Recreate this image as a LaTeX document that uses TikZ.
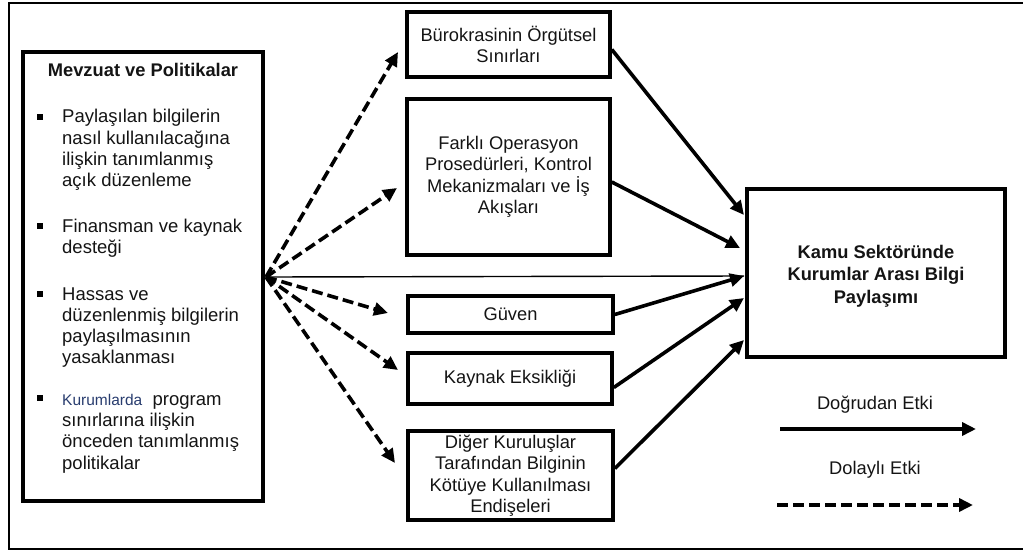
\documentclass[tikz,border=0pt]{standalone}
\usepackage{fontspec}
\setmainfont{Liberation Sans}
\usetikzlibrary{arrows.meta,calc}
\definecolor{txt}{RGB}{20,20,20}
\definecolor{kur}{RGB}{40,60,110}
\begin{document}
\begin{tikzpicture}[x=1pt,y=-1pt,
  every node/.style={text=txt},
  box/.style={draw,line width=3.6pt,inner sep=0pt,align=center,
    font=\fontsize{18.3}{21.5}\selectfont},
  bullettext/.style={anchor=west,align=left,inner sep=0pt,
    font=\fontsize{18.5}{21.2}\selectfont},
  sq/.style={fill=black,minimum size=5.5pt,inner sep=0pt},
  direct/.style={line width=3.6pt,-{Triangle[length=14pt,width=13pt]}},
  indirect/.style={line width=3.6pt,dash pattern=on 11pt off 5pt,
    -{Triangle[length=14pt,width=13pt]}},
  thin/.style={line width=1.4pt}]
\useasboundingbox (0,0) rectangle (1023,552);
% outer frame
\draw[line width=1.8pt] (1023,3) -- (9,3) -- (9,549) -- (1023,549);

% left box
\node[box,minimum width=240pt,minimum height=449pt] (mev) at (143,276.5) {};
\node[font=\bfseries\fontsize{18.3}{21}\selectfont] (title) at (143,70) {Mevzuat ve Politikalar};
\node[sq] (b1) at (40,117) {};
\node[bullettext] (t1) at (62,150) {Paylaşılan bilgilerin\\nasıl kullanılacağına\\ilişkin tanımlanmış\\açık düzenleme};
\node[sq] (b2) at (40,226) {};
\node[bullettext] (t2) at (62,238) {Finansman ve kaynak\\desteği};
\node[sq] (b3) at (40,294) {};
\node[bullettext] (t3) at (62,327.5) {Hassas ve\\düzenlenmiş bilgilerin\\paylaşılmasının\\yasaklanması};
\node[sq] (b4) at (40,398) {};
\node[bullettext] (t4) at (62,433.5) {{\color{kur}\fontsize{15.5}{21.2}\selectfont Kurumlarda}\ \ program\\sınırlarına ilişkin\\önceden tanımlanmış\\politikalar};

% middle boxes
\node[box,minimum width=203pt,minimum height=65pt] (bur) at (508.5,44.5) {Bürokrasinin Örgütsel\\Sınırları};
\node[box,minimum width=203pt,minimum height=156pt] (far) at (508.5,177) {Farklı Operasyon\\Prosedürleri, Kontrol\\Mekanizmaları ve İş\\Akışları};
\node[box,minimum width=205pt,minimum height=37pt] (guv) at (510.5,314.5) {Güven};
\node[box,minimum width=204pt,minimum height=51pt] (kay) at (510,378.5) {Kaynak Eksikliği};
\node[box,minimum width=205pt,minimum height=89pt] (dig) at (510.5,475.5) {Diğer Kuruluşlar\\Tarafından Bilginin\\Kötüye Kullanılması\\Endişeleri};

% right box
\node[box,minimum width=258pt,minimum height=168pt,
  font=\bfseries\fontsize{18.3}{22.5}\selectfont] (kam) at (876,273) {};
\node[font=\bfseries\fontsize{18.3}{22.5}\selectfont,align=center] (kamt) at (876,276)
  {Kamu Sektöründe\\Kurumlar Arası Bilgi\\Paylaşımı};

% hub and targets
\coordinate (hub) at (266,277);
\coordinate (k1) at (744,215);
\coordinate (k2) at (740,248);
\coordinate (k3) at (744,276);
\coordinate (k4) at (744,298);
\coordinate (k5) at (744,340);

% indirect arrows
\draw[indirect] (hub) -- (398,52) coordinate (e1);
\draw[indirect] (hub) -- (397,188) coordinate (e2);
\draw[indirect] (hub) -- (388,313) coordinate (e3);
\draw[indirect] (hub) -- (398,370) coordinate (e4);
\draw[indirect] (hub) -- (395,463) coordinate (e5);

% thin line
\draw[thin] (hub) -- (k3);

% direct arrows
\draw[direct] ([yshift=-5pt]bur.east) -- (k1);
\draw[direct] ([yshift=-5pt]far.east) -- (k2);
\draw[direct] (guv.east) -- (k3);
\draw[direct] ([yshift=-9pt]kay.east) -- (k4);
\draw[direct] ([yshift=7pt]dig.east) -- (k5);

% legend
\node[font=\fontsize{18.3}{21}\selectfont] (ld) at (875,405) {Doğrudan Etki};
\coordinate (ld1) at (780,429);
\coordinate (ld2) at (976,429);
\draw[direct] (ld1) -- (ld2);
\node[font=\fontsize{18.3}{21}\selectfont] (li) at (875,470) {Dolaylı Etki};
\coordinate (li1) at (777,505);
\coordinate (li2) at (973,505);
\draw[indirect] (li1) -- (li2);
\end{tikzpicture}
\end{document}
